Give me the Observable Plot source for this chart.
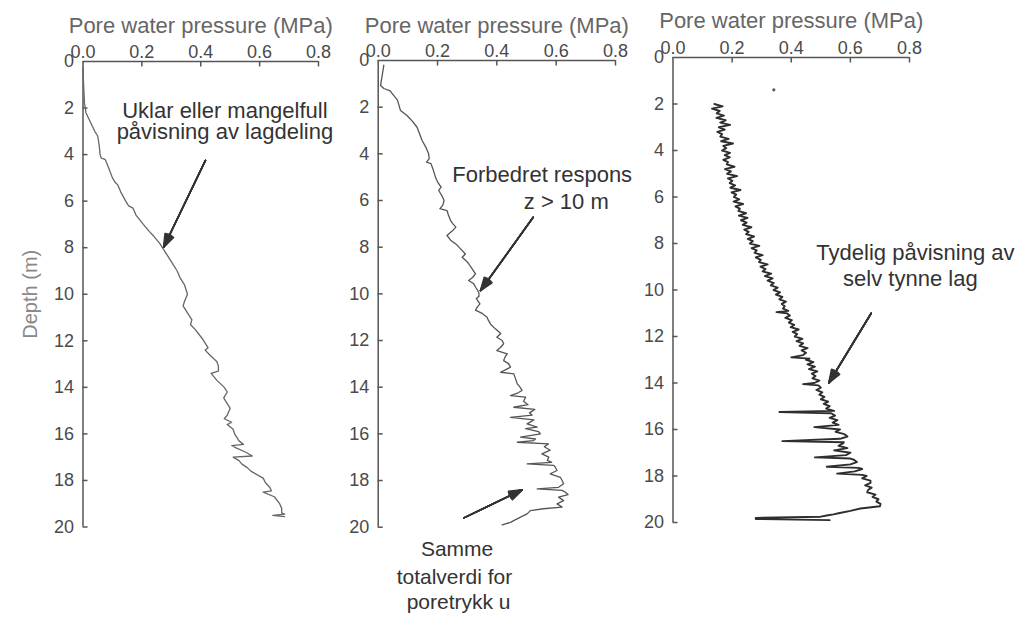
<!DOCTYPE html>
<html><head><meta charset="utf-8">
<script src="https://cdn.jsdelivr.net/npm/d3@7"></script>
<script src="https://cdn.jsdelivr.net/npm/@observablehq/plot@0.6"></script>
<style>
body{margin:0;background:#fff;}
#wrap{position:relative;width:1020px;height:617px;overflow:hidden;background:#fff;}
</style></head><body><div id="wrap"></div>
<script>
// ---- axis ticks ----
const xTicks = [0, 0.2, 0.4, 0.6, 0.8];
const yTicks = [0, 2, 4, 6, 8, 10, 12, 14, 16, 18, 20];
const xTitle = "Pore water pressure (MPa)";
const yTitle = "Depth (m)";

// ---- panel 1: depth (m) / pore pressure (MPa) ----
const p1Depth = [0.26,1.0,1.8,2.0,2.2,2.6,3.0,3.2,3.6,4.0,4.15,4.2,4.5,5.0,5.2,5.3,5.6,6.0,6.2,6.3,6.6,7.0,7.3,7.5,7.8,8.2,8.6,9.0,9.3,9.6,10.0,10.3,10.5,10.8,11.1,11.3,11.5,11.9,12.3,12.4,12.6,12.9,13.1,13.3,13.4,13.7,14.0,14.2,14.45,14.7,14.9,15.2,15.35,15.5,15.6,15.8,16.0,16.3,16.45,16.5,16.6,16.8,16.95,17.0,17.15,17.3,17.45,17.6,17.9,18.1,18.3,18.45,18.5,18.7,19.0,19.2,19.4,19.45,19.5,19.55];
const p1U     = [0.0,0.002,0.005,0.008,0.01,0.025,0.04,0.05,0.055,0.058,0.062,0.075,0.085,0.10,0.11,0.118,0.128,0.145,0.155,0.17,0.18,0.205,0.225,0.24,0.26,0.28,0.30,0.32,0.33,0.345,0.355,0.345,0.34,0.355,0.37,0.365,0.38,0.405,0.425,0.415,0.43,0.455,0.46,0.46,0.435,0.455,0.48,0.49,0.478,0.49,0.5,0.49,0.48,0.505,0.49,0.51,0.515,0.53,0.545,0.505,0.52,0.555,0.575,0.51,0.53,0.54,0.558,0.57,0.612,0.62,0.635,0.64,0.612,0.65,0.668,0.675,0.675,0.685,0.645,0.685];

// ---- panel 2 ----
const p2Depth = [0.2,0.6,1.07,1.2,1.3,1.7,2.14,2.36,2.6,2.86,3.1,3.43,3.7,4.0,4.2,4.36,4.42,4.7,5.0,5.2,5.43,5.57,5.8,6.0,6.2,6.35,6.43,6.6,6.86,7.0,7.14,7.3,7.5,7.7,7.9,8.06,8.29,8.43,8.6,8.71,8.9,9.14,9.3,9.43,9.57,9.75,9.93,10.1,10.2,10.43,10.55,10.7,10.85,11.0,11.15,11.3,11.5,11.7,11.86,12.0,12.14,12.3,12.43,12.57,12.7,12.86,13.0,13.14,13.25,13.36,13.43,13.6,13.86,14.0,14.14,14.25,14.36,14.43,14.6,14.75,14.86,14.95,15.1,15.2,15.29,15.4,15.57,15.71,15.78,15.9,16.0,16.14,16.22,16.29,16.36,16.43,16.55,16.7,16.86,17.0,17.14,17.22,17.29,17.35,17.45,17.57,17.71,17.86,18.0,18.14,18.29,18.36,18.42,18.5,18.6,18.71,18.86,19.0,19.14,19.21,19.29,19.43,19.57,19.7,19.79,19.9];
const p2U     = [0.019,0.014,0.008,0.019,0.040,0.065,0.075,0.097,0.115,0.131,0.138,0.148,0.160,0.170,0.172,0.163,0.178,0.186,0.193,0.200,0.212,0.204,0.215,0.222,0.218,0.208,0.232,0.236,0.244,0.252,0.262,0.250,0.232,0.244,0.265,0.277,0.294,0.283,0.298,0.305,0.315,0.328,0.318,0.305,0.322,0.330,0.339,0.340,0.331,0.343,0.335,0.328,0.352,0.367,0.372,0.379,0.395,0.413,0.400,0.418,0.423,0.412,0.400,0.435,0.428,0.423,0.440,0.446,0.430,0.413,0.457,0.462,0.469,0.478,0.485,0.470,0.446,0.497,0.490,0.505,0.457,0.528,0.510,0.519,0.446,0.525,0.502,0.536,0.497,0.540,0.547,0.480,0.530,0.524,0.469,0.574,0.560,0.580,0.552,0.575,0.570,0.585,0.502,0.592,0.598,0.603,0.580,0.614,0.620,0.625,0.608,0.536,0.620,0.631,0.640,0.608,0.625,0.603,0.620,0.557,0.513,0.502,0.480,0.460,0.446,0.418];

// ---- panel 3 ----
const p3Depth = [
2.0,2.1,2.2,2.3,2.4,2.5,2.6,2.7,2.8,2.9,
3.0,3.1,3.2,3.3,3.4,3.5,3.6,3.7,3.8,3.9,
4.0,4.1,4.2,4.3,4.4,4.5,4.6,4.7,4.8,4.9,
5.0,5.1,5.2,5.3,5.4,5.5,5.6,5.7,5.8,5.9,
6.0,6.1,6.2,6.3,6.4,6.5,6.6,6.7,6.8,6.9,
7.0,7.1,7.2,7.3,7.4,7.5,7.6,7.7,7.8,7.9,
8.0,8.1,8.2,8.3,8.4,8.5,8.6,8.7,8.8,8.9,
9.0,9.1,9.2,9.3,9.4,9.5,9.6,9.7,9.8,9.9,
10.0,10.1,10.2,10.3,10.4,10.5,10.6,10.7,10.8,10.9,10.95,
11.0,11.1,11.2,11.3,11.4,11.5,11.6,11.7,11.8,11.9,
12.0,12.1,12.2,12.3,12.4,12.5,12.6,12.7,12.8,12.9,12.95,
13.0,13.1,13.2,13.3,13.4,13.5,13.6,13.7,13.8,13.9,
14.0,14.05,14.1,14.2,14.3,14.4,14.5,14.6,14.7,14.8,14.9,
15.0,15.1,15.2,15.25,15.3,15.4,15.5,15.6,15.7,15.8,15.9,
16.0,16.1,16.2,16.3,16.4,16.5,16.55,16.6,16.7,16.8,16.9,
17.0,17.1,17.2,17.25,17.3,17.4,17.5,17.6,17.65,17.7,17.8,17.9,17.95,
18.0,18.1,18.2,18.3,18.4,18.5,18.6,18.7,18.8,18.9,
19.0,19.1,19.2,19.3,19.4,19.5,19.6,19.65,19.7,19.75,19.8,19.85,19.9];
const p3U = [
0.140,0.168,0.132,0.158,0.148,0.172,0.147,0.178,0.160,0.193,
0.155,0.175,0.150,0.166,0.160,0.188,0.163,0.203,0.170,0.180,
0.166,0.193,0.175,0.192,0.170,0.186,0.182,0.208,0.176,0.196,
0.183,0.217,0.186,0.201,0.192,0.210,0.194,0.228,0.198,0.214,
0.206,0.224,0.205,0.237,0.211,0.226,0.221,0.247,0.223,0.252,
0.230,0.249,0.236,0.265,0.241,0.256,0.247,0.274,0.253,0.270,
0.260,0.292,0.266,0.283,0.276,0.303,0.280,0.297,0.291,0.320,
0.296,0.313,0.303,0.332,0.311,0.337,0.320,0.341,0.331,0.354,
0.340,0.362,0.348,0.370,0.360,0.382,0.368,0.378,0.372,0.390,0.350,
0.385,0.395,0.380,0.402,0.392,0.410,0.398,0.425,0.405,0.420,
0.412,0.438,0.418,0.440,0.428,0.455,0.435,0.450,0.440,0.400,0.462,
0.450,0.475,0.455,0.480,0.460,0.488,0.470,0.482,0.472,0.495,
0.478,0.440,0.492,0.500,0.485,0.505,0.495,0.512,0.500,0.525,0.510,
0.530,0.518,0.545,0.360,0.535,0.548,0.530,0.556,0.540,0.560,0.478,
0.565,0.550,0.580,0.590,0.565,0.370,0.578,0.575,0.560,0.590,0.545,
0.600,0.585,0.480,0.600,0.612,0.622,0.600,0.520,0.628,0.640,0.615,0.555,0.640,
0.655,0.640,0.668,0.668,0.650,0.672,0.660,0.657,0.685,0.675,
0.695,0.688,0.702,0.700,0.634,0.600,0.560,0.543,0.520,0.500,0.280,0.280,0.530];
const p3Speck = [{x: 0.341, y: 1.39}];

// ---- annotations (text lines, positions in MPa / m) ----
const p1Notes = [
  {text: "Uklar eller mangelfull", x: 0.482, y: 2.41},
  {text: "påvisning av lagdeling", x: 0.482, y: 3.35}
];
const p1Arrows = [{x1: 0.416, y1: 4.25, x2: 0.274, y2: 7.98}];
const p2Notes = [
  {text: "Forbedret respons", x: 0.553, y: 5.22},
  {text: "z > 10 m", x: 0.634, y: 6.36}
];
const p2NotesLow = [
  {text: "Samme", x: 0.266, y: 21.22},
  {text: "totalverdi for", x: 0.257, y: 22.42},
  {text: "poretrykk u", x: 0.271, y: 23.49}
];
const p2Arrows = [
  {x1: 0.5226, y1: 6.72, x2: 0.345, y2: 9.86},
  {x1: 0.289, y1: 19.6, x2: 0.4855, y2: 18.4}
];
const p3Notes = [
  {text: "Tydelig påvisning av", x: 0.820, y: 8.73},
  {text: "selv tynne lag", x: 0.803, y: 9.81}
];
const p3Arrows = [{x1: 0.6705, y1: 11.0, x2: 0.527, y2: 14.0}];

const axisColor = "#555";
const headAngles = [8, 16, 24, 32, 40];
const HEIGHT = 617;

function panel(cfg) {
  const series = cfg.depth.map((d, i) => ({depth: d, u: cfg.u[i]}));
  const frameW = cfg.width - cfg.mL - cfg.mR;
  const frameH = HEIGHT - cfg.mT - cfg.mB;
  const marks = [
    Plot.ruleY([0], {stroke: axisColor, strokeWidth: 1.5}),
    Plot.ruleX([0], {stroke: axisColor, strokeWidth: 1.5}),
    Plot.tickX(xTicks.slice(1), {x: d => d, insetBottom: frameH - 5.5, stroke: axisColor, strokeWidth: 1.5}),
    Plot.tickY(yTicks.slice(1), {y: d => d, insetRight: frameW - 5, stroke: axisColor, strokeWidth: 1.5}),
    Plot.axisX(xTicks, {anchor: "top", tickSize: 0, tickPadding: 4, tickFormat: d => d.toFixed(1), fontSize: 18, color: "#4a4a4a", label: null}),
    Plot.axisY(yTicks, {anchor: "left", tickSize: 0, tickPadding: 9, fontSize: 18, color: "#4a4a4a", label: null}),
    Plot.text([xTitle], {text: d => d, frameAnchor: "top", textAnchor: "middle", dy: -cfg.titleDy, lineAnchor: "bottom", fontSize: 22, fill: "#666"}),
    Plot.line(series, {x: "u", y: "depth", stroke: cfg.stroke, strokeWidth: cfg.sw, strokeLinejoin: "round"}),
    Plot.text(cfg.notes, {x: "x", y: "y", text: "text", lineAnchor: "bottom", textAnchor: "middle", fontSize: 22, fill: "#333"}),
    ...headAngles.map(a => Plot.arrow(cfg.arrows, {x1: "x1", y1: "y1", x2: "x2", y2: "y2", stroke: "#333", strokeWidth: 1.6, headLength: 13, headAngle: a}))
  ];
  if (cfg.notesLow) marks.push(Plot.text(cfg.notesLow, {x: "x", y: "y", text: "text", lineAnchor: "bottom", textAnchor: "middle", fontSize: 21, fill: "#333"}));
  if (cfg.specks) marks.push(Plot.dot(cfg.specks, {x: "x", y: "y", r: 1.6, fill: "#555", stroke: null}));
  if (cfg.yLabel) marks.push(Plot.text([yTitle], {text: d => d, frameAnchor: "left", textAnchor: "middle", lineAnchor: "middle", dx: -52.5, dy: 0, rotate: -90, fontSize: 20, fill: "#888"}));
  const svg = Plot.plot({
    width: cfg.width, height: HEIGHT,
    marginLeft: cfg.mL, marginRight: cfg.mR, marginTop: cfg.mT, marginBottom: cfg.mB,
    x: {domain: [0, 0.8]},
    y: {domain: [0, 20], reverse: true},
    style: {fontFamily: "'Liberation Sans', Arial, sans-serif", background: "transparent", overflow: "visible"},
    marks
  });
  svg.style.position = "absolute";
  svg.style.left = cfg.left + "px";
  svg.style.top = "0px";
  svg.style.maxWidth = "none";
  return svg;
}

const wrap = document.getElementById("wrap");
wrap.appendChild(panel({depth: p1Depth, u: p1U, left: 0, width: 340, mL: 82.5, mR: 22, mT: 61, mB: 90.5,
  stroke: "#666", sw: 1.3, notes: p1Notes, arrows: p1Arrows, yLabel: true, titleDy: 29}));
wrap.appendChild(panel({depth: p2Depth, u: p2U, left: 340, width: 300, mL: 37.7, mR: 25, mT: 60, mB: 90.3,
  stroke: "#555", sw: 1.3, notes: p2Notes, notesLow: p2NotesLow, arrows: p2Arrows, titleDy: 28}));
wrap.appendChild(panel({depth: p3Depth, u: p3U, left: 640, width: 380, mL: 32.5, mR: 111, mT: 57, mB: 95,
  stroke: "#2e2e2e", sw: 1.9, notes: p3Notes, arrows: p3Arrows, specks: p3Speck, titleDy: 30}));
</script></body></html>
